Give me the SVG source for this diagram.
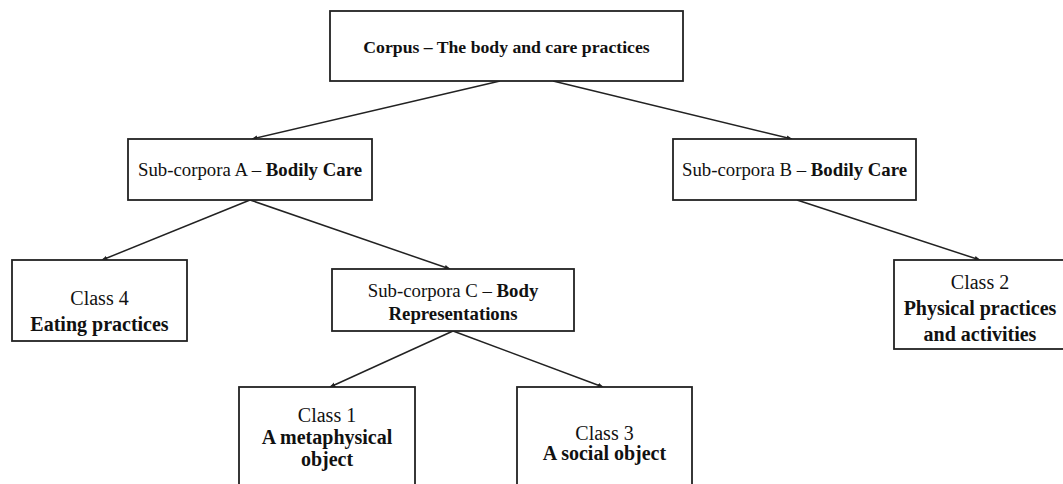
<svg xmlns="http://www.w3.org/2000/svg" width="1063" height="484" viewBox="0 0 1063 484">
<style>
.box{fill:#fff;stroke:#222;stroke-width:1.8}
.t{font-family:"Liberation Serif",serif;fill:#111;text-anchor:middle}
.b{font-weight:bold}
.edge{stroke:#222;stroke-width:1.5;fill:none;marker-end:url(#ah)}
</style>
<defs>
<marker id="ah" viewBox="0 0 10 10" refX="9" refY="5" markerWidth="6" markerHeight="6" markerUnits="userSpaceOnUse" orient="auto">
<path d="M0,1 L10,5 L0,9 z" fill="#222"/>
</marker>
</defs>
<rect width="1063" height="484" fill="#fff"/>
<g id="connectors">
<line class="edge" x1="500" y1="81" x2="252" y2="139"/>
<line class="edge" x1="553" y1="81" x2="792" y2="139"/>
<line class="edge" x1="250" y1="200" x2="102" y2="260"/>
<line class="edge" x1="250" y1="200" x2="450" y2="269"/>
<line class="edge" x1="797" y1="200" x2="980" y2="260"/>
<line class="edge" x1="453" y1="331" x2="330" y2="387"/>
<line class="edge" x1="453" y1="331" x2="603" y2="387"/>
</g>
<g id="corpus">
<rect class="box" x="330" y="11" width="353" height="70"/>
<text class="t b" x="506.5" y="53" font-size="17.7">Corpus – The body and care practices</text>
</g>
<g id="subA">
<rect class="box" x="128" y="139" width="244" height="61"/>
<text class="t" x="250" y="176" font-size="18.8">Sub-corpora A – <tspan class="b">Bodily Care</tspan></text>
</g>
<g id="subB">
<rect class="box" x="673" y="139" width="243" height="61"/>
<text class="t" x="794.5" y="176" font-size="18.8">Sub-corpora B – <tspan class="b">Bodily Care</tspan></text>
</g>
<g id="class4">
<rect class="box" x="12" y="260" width="175" height="81"/>
<text class="t" x="99.5" y="305" font-size="20">Class 4</text>
<text class="t b" x="99.5" y="331" font-size="20">Eating practices</text>
</g>
<g id="subC">
<rect class="box" x="332" y="269" width="242" height="62"/>
<text class="t" x="453" y="297" font-size="18.8">Sub-corpora C – <tspan class="b">Body</tspan></text>
<text class="t b" x="453" y="320" font-size="18.8">Representations</text>
</g>
<g id="class2">
<rect class="box" x="894" y="260" width="172" height="89"/>
<text class="t" x="980" y="289" font-size="20">Class 2</text>
<text class="t b" x="980" y="315" font-size="20">Physical practices</text>
<text class="t b" x="980" y="341" font-size="20">and activities</text>
</g>
<g id="class1">
<rect class="box" x="239" y="387" width="176" height="110"/>
<text class="t" x="327" y="422" font-size="20">Class 1</text>
<text class="t b" x="327" y="444" font-size="20">A metaphysical</text>
<text class="t b" x="327" y="466" font-size="20">object</text>
</g>
<g id="class3">
<rect class="box" x="517" y="387" width="175" height="110"/>
<text class="t" x="604.5" y="440" font-size="20">Class 3</text>
<text class="t b" x="604.5" y="460" font-size="20">A social object</text>
</g>
</svg>
